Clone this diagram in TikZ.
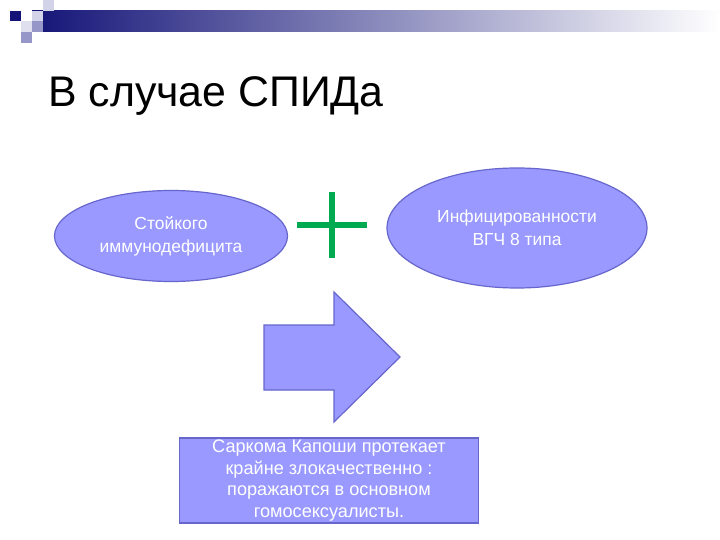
\documentclass[tikz,border=0pt]{standalone}
\usepackage{fontspec}
\setmainfont{Liberation Sans}
\usetikzlibrary{shapes.geometric}
\definecolor{navy}{RGB}{20,20,120}
\definecolor{lav}{RGB}{153,153,255}
\definecolor{lavborder}{RGB}{102,102,204}
\definecolor{plusgreen}{RGB}{0,170,80}
\definecolor{sqlight}{RGB}{210,210,232}
\definecolor{sqmid}{RGB}{150,150,200}
\tikzset{
  oval/.style={ellipse, fill=lav, draw=lavborder, line width=1.2bp, inner sep=0pt,
    text=white, align=center, font=\fontsize{17.5}{23}\selectfont},
  resultbox/.style={rectangle, fill=lav, draw=lavborder, line width=1.5bp, inner sep=0pt,
    text=white, align=center, font=\fontsize{18.2}{21.5}\selectfont},
  sq/.style={draw=none}
}
\begin{document}
\begin{tikzpicture}[x=1bp,y=-1bp]
\useasboundingbox (0,0) rectangle (720,540);
\fill[white] (0,0) rectangle (720,540);
% header bar
\shade[left color=navy, right color=white, shading=axis] (32,11) rectangle (720,32);
% corner squares
\fill[navy] (10,11) rectangle (21,21);
\fill[sqlight] (32,11) rectangle (43,21);
\fill[sqmid] (32,21) rectangle (43,32);
\fill[sqlight] (43,0) rectangle (54,11);
\fill[sqlight!70!white] (21,21) rectangle (32,32);
\fill[sqmid] (21,32) rectangle (32,43);
% title
\node[anchor=base west, inner sep=0pt, font=\fontsize{43}{50}\selectfont] (title) at (48,107) {В случае СПИДа};
% ellipses
\node[oval, minimum width=233bp, minimum height=91bp] (a) at (171,236) {Стойкого\\иммунодефицита};
\node[oval, minimum width=260bp, minimum height=120bp] (b) at (517,228) {Инфицированности\\ВГЧ 8 типа};
% plus
\coordinate (plus) at (332,225);
\draw[plusgreen, line width=5.5bp] (plus) ++(0,-33) -- ++(0,66);
\draw[plusgreen, line width=5.5bp] (plus) ++(-35,0) -- ++(70,0);
% block arrow
\draw[fill=lav, draw=lavborder, line width=1.2bp, line join=miter]
  (264,325) -- (334,325) -- (334,292) -- (400,357) -- (334,422) -- (334,390) -- (264,390) -- cycle;
% result box
\node[resultbox, minimum width=299bp, minimum height=85bp] (c) at (329,480.5)
  {Саркома Капоши протекает\\крайне злокачественно :\\поражаются в основном\\гомосексуалисты.};
\end{tikzpicture}
\end{document}
